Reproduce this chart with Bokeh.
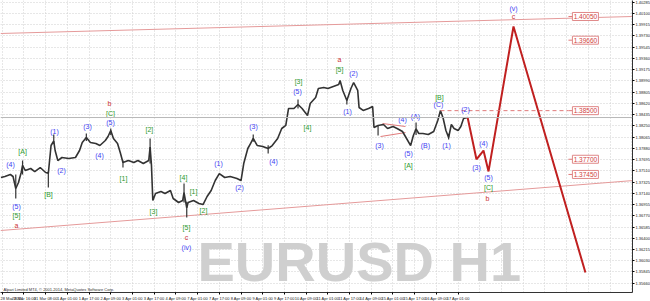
from bokeh.plotting import figure
from bokeh.models import FixedTicker, Span, Label, Range1d, ColumnDataSource, PrintfTickFormatter
from bokeh.core.properties import value
from bokeh.embed import file_html
from bokeh.resources import INLINE

# ---------------- data ----------------
price_bar = [-1, 2, 6, 8, 10, 12, 14, 15, 17, 21, 24, 28, 32, 34, 36, 38, 39, 41, 44, 49,
             54, 57, 59, 62, 65, 69, 72, 76, 78, 80, 82, 85, 87, 89, 93, 97, 100, 104, 108, 109,
             110, 111, 113, 117, 120, 124, 126, 130, 133, 134, 136, 137, 141, 145, 148, 151, 154, 157, 160, 164,
             168, 173, 176, 178, 181, 183, 185, 188, 192, 196, 199, 203, 206, 209, 211, 215, 218, 221, 225, 227,
             231, 233, 237, 240, 244, 248, 249, 251, 254, 257, 259, 262, 263, 266, 270, 273, 274, 277, 281, 284,
             288, 291, 295, 298, 301, 303, 305, 307, 310, 314, 318, 321, 323, 325, 327, 329, 331, 333, 336, 338,
             340, 343]
price_close = [1.37400, 1.37416, 1.37449, 1.37416, 1.37219, 1.37317, 1.37482, 1.37600, 1.37515, 1.37548,
               1.37498, 1.37564, 1.37482, 1.37470, 1.37926, 1.38000, 1.37844, 1.37679, 1.37729, 1.37712,
               1.37729, 1.37844, 1.37976, 1.38058, 1.37976, 1.37959, 1.37926, 1.38009, 1.38075, 1.38173,
               1.38042, 1.37959, 1.37811, 1.37646, 1.37679, 1.37646, 1.37679, 1.37630, 1.37679, 1.37900,
               1.37600, 1.37021, 1.37136, 1.37169, 1.37136, 1.37186, 1.37054, 1.36988, 1.37021, 1.37150,
               1.36900, 1.36988, 1.37021, 1.36971, 1.36955, 1.37087, 1.37186, 1.37350, 1.37465, 1.37400,
               1.37416, 1.37383, 1.37350, 1.37630, 1.37877, 1.37959, 1.38042, 1.37926, 1.37910, 1.37877,
               1.37926, 1.38042, 1.38206, 1.38256, 1.38535, 1.38535, 1.38601, 1.38535, 1.38420, 1.38618,
               1.38716, 1.38865, 1.38881, 1.38865, 1.38898, 1.38930, 1.38996, 1.38832, 1.38667, 1.38865,
               1.38963, 1.38832, 1.38552, 1.38503, 1.38535, 1.38568, 1.38222, 1.38256, 1.38272, 1.38206,
               1.38239, 1.38206, 1.38157, 1.38042, 1.37926, 1.38091, 1.38200, 1.38124, 1.38124, 1.38107,
               1.38157, 1.38338, 1.38502, 1.38371, 1.38173, 1.38058, 1.38272, 1.38206, 1.38173, 1.38239,
               1.38371, 1.38387]

wick_bar = [10, 15, 34, 38, 62, 80, 89, 109, 134, 136, 185, 196, 218, 254, 277, 305, 329]
wick_hi = [1.37449, 1.37679, 1.37500, 1.38107, 1.38124, 1.38206, 1.37680, 1.38042, 1.37301, 1.37000,
           1.38107, 1.37930, 1.38683, 1.38700, 1.38260, 1.38305, 1.38120]
wick_lo = [1.37054, 1.37450, 1.37235, 1.37950, 1.38000, 1.38100, 1.37564, 1.37630, 1.36988, 1.36741,
           1.37990, 1.37795, 1.38535, 1.38600, 1.38091, 1.38100, 1.38025]

proj_bar = [343, 349.5, 354.7, 358.4, 376.8, 429.8]
proj_price = [1.38387, 1.37700, 1.37844, 1.37500, 1.39885, 1.35836]

trend_bar = [-1.25, 465.2]
upper_trend = [1.39770, 1.40050]
lower_trend = [1.36527, 1.37350]

wedge_bar0 = [278.8, 280.3]
wedge_bar1 = [297.2, 297.2]
wedge_p0 = [1.38074, 1.38288]
wedge_p1 = [1.38140, 1.38239]

level_prices = [1.40050, 1.39660, 1.38500, 1.37700, 1.37450]
level_labels = ["1.40050", "1.39660", "1.38500", "1.37700", "1.37450"]
current_price = 1.38387

wave_bar = [6.1, 10.5, 10.5, 10.5, 15.0, 34.1, 38.5, 43.7, 62.9, 71.7, 79.8, 79.8, 79.1, 89.4, 108.5,
            111.5, 133.6, 135.8, 135.8, 135.8, 141.0, 148.3, 159.4, 174.9, 185.2, 199.9, 218.4, 217.6, 225.0,
            248.6, 248.6, 254.5, 258.9, 278.0, 295.0, 304.6, 299.4, 299.4, 311.9, 321.5, 322.2, 327.4, 341.4,
            349.5, 354.7, 358.4, 358.4, 357.6, 376.8, 376.8]
wave_price = [1.37614, 1.36922, 1.36774, 1.36610, 1.37828, 1.37120, 1.38157, 1.37515, 1.38239, 1.37762,
              1.38305, 1.38453, 1.38618, 1.37383, 1.38190, 1.36840, 1.37400, 1.36577, 1.36412, 1.36247,
              1.37169, 1.36856, 1.37630, 1.37235, 1.38239, 1.37663, 1.38980, 1.38815, 1.38223, 1.39177,
              1.39342, 1.38486, 1.39111, 1.37926, 1.38354, 1.38404, 1.37795, 1.37597, 1.37926, 1.38601,
              1.38717, 1.37926, 1.38519, 1.37564, 1.37959, 1.37400, 1.37235, 1.37054, 1.40181, 1.40050]
wave_text = ["(4)", "(5)", "[5]", "a", "[A]", "[B]", "(1)", "(2)", "(3)", "(4)", "(5)", "[C]", "b", "[1]", "[2]",
             "[3]", "[4]", "[5]", "c", "(iv)", "[1]", "[2]", "(1)", "(2)", "(3)", "(4)", "[3]", "(5)", "[4]",
             "[5]", "a", "(1)", "(2)", "(3)", "(4)", "(A)", "(5)", "[A]", "(B)", "(C)", "[B]", "(1)", "(2)",
             "(3)", "(4)", "(5)", "[C]", "b", "(v)", "c"]

price_ticks = [1.40285, 1.40100, 1.39915, 1.39730, 1.39545, 1.39360, 1.39175, 1.38990, 1.38805, 1.38620,
               1.38435, 1.38250, 1.38065, 1.37880, 1.37695, 1.37510, 1.37325, 1.37140, 1.36955, 1.36770,
               1.36585, 1.36400, 1.36215, 1.36030, 1.35845, 1.35660, 1.35475]
time_ticks = [0, 16, 32, 48, 64, 80, 96, 112, 128, 144, 160, 176, 192, 208, 224, 240, 256, 272, 288, 304, 320, 336]
time_labels = ["28 Mar 2014", "28 Mar 16:00", "31 Mar 08:00", "1 Apr 01:00", "1 Apr 17:00", "2 Apr 09:00",
               "3 Apr 01:00", "3 Apr 17:00", "4 Apr 09:00", "7 Apr 01:00", "7 Apr 17:00", "8 Apr 09:00",
               "9 Apr 01:00", "9 Apr 17:00", "10 Apr 09:00", "11 Apr 01:00", "11 Apr 17:00", "14 Apr 09:00",
               "15 Apr 01:00", "15 Apr 17:00", "16 Apr 09:00", "17 Apr 01:00"]
grid_extra = [352, 368, 384, 400, 416, 432, 448, 464]

# ---------------- styles ----------------
BLUE = "#3f3ff2"
GREEN = "#2e9a2e"
RED = "#cc3333"
kind_color = {"(": BLUE, "[": GREEN}
wave_color = [kind_color.get(t[0], RED) for t in wave_text]
FONT = "Liberation Sans"

p = figure(frame_width=632, frame_height=292,
           x_range=Range1d(-1.25, 464.5), y_range=Range1d(1.35507, 1.40313),
           output_backend="svg", toolbar_location=None, y_axis_location="right",
           min_border_left=0, min_border_top=0, min_border_right=0, min_border_bottom=0)
p.outline_line_color = None
p.background_fill_color = "white"
p.border_fill_color = "white"

# axes
ya = p.yaxis[0]
ya.ticker = FixedTicker(ticks=price_ticks)
ya.formatter = PrintfTickFormatter(format="%.5f")
ya.major_label_text_font_size = "4px"
ya.major_label_text_font = FONT
ya.major_label_text_color = "#222222"
ya.major_tick_out = 2
ya.major_tick_in = 0
ya.minor_tick_line_color = None
ya.major_label_standoff = 1
ya.axis_line_color = "#333333"

xa = p.xaxis[0]
xa.ticker = FixedTicker(ticks=time_ticks)
xa.major_label_overrides = {t: l for t, l in zip(time_ticks, time_labels)}
xa.major_label_text_font_size = "4px"
xa.major_label_text_font = FONT
xa.major_label_text_color = "#222222"
xa.major_label_text_align = "left"
xa.major_tick_out = 2
xa.major_tick_in = 0
xa.minor_tick_line_color = None
xa.major_label_standoff = 1
xa.axis_line_color = "#333333"

# grid
p.xgrid[0].ticker = FixedTicker(ticks=time_ticks + grid_extra)
p.ygrid[0].ticker = FixedTicker(ticks=price_ticks)
for g in (p.xgrid[0], p.ygrid[0]):
    g.grid_line_color = "#cfcfcf"
    g.grid_line_dash = "1 2"
    g.grid_line_width = 1

# watermark
p.add_layout(Label(x=197, y=31, x_units="screen", y_units="screen", text="EURUSD H1",
                   text_font=FONT, text_font_size="56px", text_font_style="bold",
                   text_color="#cfcfcf", text_baseline="alphabetic"))
p.add_layout(Label(x=3, y=1, x_units="screen", y_units="screen",
                   text="Alpari Limited MT4, \u00a9 2001-2014, MetaQuotes Software Corp.",
                   text_font=FONT, text_font_size="4px", text_color="#333333", text_baseline="bottom"))

# bid line
p.add_layout(Span(location=current_price, dimension="width", line_color="#b8b8b8", line_width=1))

# trend lines
p.line(trend_bar, upper_trend, line_color="#e59a9a", line_width=1)
p.line(trend_bar, lower_trend, line_color="#e59a9a", line_width=1)
p.segment(x0=wedge_bar0, y0=wedge_p0, x1=wedge_bar1, y1=wedge_p1, line_color="#e07a7a", line_width=1)

# price series
p.segment(x0=wick_bar, y0=wick_lo, x1=wick_bar, y1=wick_hi, line_color="#333333", line_width=1.2)
p.line(price_bar, price_close, line_color="#333333", line_width=1.6)

# projection
p.line(proj_bar, proj_price, line_color="#c02020", line_width=2)

# levels
box_x = 429.8
tick_x0, tick_x1 = 417.3, 421.0
lv = ColumnDataSource(dict(y=level_prices, t=level_labels,
                           x=[box_x] * len(level_prices),
                           x0=[tick_x0] * len(level_prices), x1=[tick_x1] * len(level_prices)))
p.segment(x0="x0", y0="y", x1="x1", y1="y", source=lv, line_color="#e07a7a", line_width=1)
p.segment(x0=[323], y0=[level_prices[2]], x1=[tick_x0], y1=[level_prices[2]],
          line_color="#e07a7a", line_width=1, line_dash="4 3")
p.rect(x="x", y="y", width=26, height=8, width_units="screen", height_units="screen", source=lv,
       fill_color="white", line_color="#e08888", line_width=1)
p.text(x="x", y="y", text="t", source=lv, text_font=value(FONT), text_font_size="6.5px",
       text_color="#d04040", text_align="center", text_baseline="middle")

# wave labels
ws = ColumnDataSource(dict(x=wave_bar, y=wave_price, t=wave_text, c=wave_color))
p.text(x="x", y="y", text="t", text_color="c", source=ws, text_font=value(FONT), text_font_size="7px",
       text_align="center", text_baseline="middle")

open("out.html", "w").write(file_html(p, INLINE))
